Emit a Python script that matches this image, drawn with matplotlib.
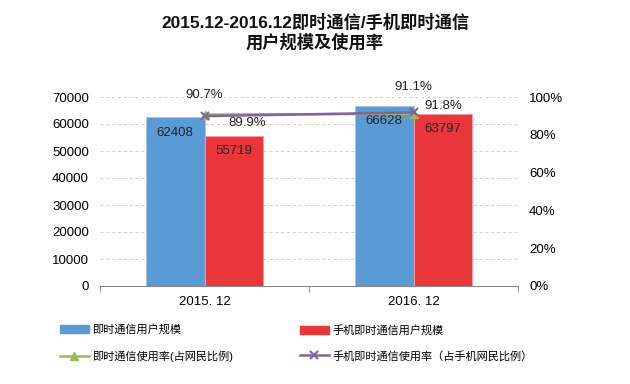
import numpy as np
import matplotlib
matplotlib.use("Agg")
import matplotlib.pyplot as plt
from matplotlib.lines import Line2D
from matplotlib.patches import Patch

plt.rcParams['font.family'] = ['Liberation Sans', 'Noto Sans CJK SC', 'DejaVu Sans']

periods = ["2015. 12", "2016. 12"]
im_users = [62408, 66628]
mobile_im_users = [55719, 63797]
im_rate = [90.7, 91.1]
mobile_im_rate = [89.9, 91.8]

blue = "#5B9BD5"
red = "#E8363B"
green = "#9BBB59"
purple = "#8064A2"

fig = plt.figure(figsize=(6.3, 3.84), dpi=100)

ax = fig.add_axes([100 / 630, 1 - 286 / 384, 418 / 630, 189 / 384])
ax2 = ax.twinx()

x = np.arange(len(periods))
w = 0.28
b1 = ax.bar(x - w / 2, im_users, w, color=blue, edgecolor="#A9C6E6", linewidth=0.7, zorder=2)
b2 = ax.bar(x + w / 2, mobile_im_users, w, color=red, edgecolor="#F0A0A0", linewidth=0.7, zorder=2)
for rects, vals in ((b1, im_users), (b2, mobile_im_users)):
    for r, v in zip(rects, vals):
        ax.text(r.get_x() + r.get_width() / 2, v - 3400, str(v), ha="center", va="top",
                fontsize=9.5, color="#222222")

ax.set_ylim(0, 70000)
ax.set_xlim(-0.5, 1.5)
ax.set_yticks(np.arange(0, 70001, 10000))
ax.set_xticks(x)
ax.set_xticklabels(periods, fontsize=9.5)
ax.set_xticks([-0.5, 0.5, 1.5], minor=True)
ax.tick_params(axis="x", which="major", length=0, pad=7)
ax.tick_params(axis="x", which="minor", length=4, color="#888888")
ax.tick_params(axis="y", length=0, labelsize=9.5, pad=8)
ax.yaxis.grid(True, linestyle=(0, (3, 3)), color="#CCCCCC", linewidth=0.7, zorder=0)
ax.set_axisbelow(True)
for s in ("top", "left", "right"):
    ax.spines[s].set_visible(False)
ax.spines["bottom"].set_color("#888888")

ax2.plot(x, im_rate, color=green, linewidth=1.8, marker="^", markersize=6, zorder=3)
ax2.plot(x, mobile_im_rate, color=purple, linewidth=1.8, marker="x", markersize=6,
         markeredgewidth=1.5, zorder=4)
ax2.set_ylim(0, 100)
ax2.set_yticks(np.arange(0, 101, 20))
ax2.set_yticklabels([f"{t}%" for t in range(0, 101, 20)])
ax2.tick_params(axis="y", length=0, labelsize=9.5, pad=8)
for s in ("top", "left", "right", "bottom"):
    ax2.spines[s].set_visible(False)

lab = dict(textcoords="offset points", fontsize=9.5, color="#222222")
ax2.annotate(f"{im_rate[0]}%", (x[0], im_rate[0]), xytext=(0, 10), ha="center", va="bottom", **lab)
ax2.annotate(f"{mobile_im_rate[0]}%", (x[0], mobile_im_rate[0]), xytext=(17, -1), ha="left", va="top", **lab)
ax2.annotate(f"{im_rate[1]}%", (x[1], im_rate[1]), xytext=(0, 15), ha="center", va="bottom", **lab)
ax2.annotate(f"{mobile_im_rate[1]}%", (x[1], mobile_im_rate[1]), xytext=(8, 0), ha="left", va="bottom", **lab)

fig.text(0.5, 0.965, "2015.12-2016.12即时通信/手机即时通信\n用户规模及使用率", ha="center", va="top",
         fontsize=12.4, fontweight="bold", linespacing=1.2, color="#111111")

leg_kw = dict(loc="center left", frameon=False, fontsize=8, handlelength=2.6, handleheight=0.7,
              handletextpad=0.35, labelspacing=1.35, borderpad=0, borderaxespad=0)
leg1 = fig.legend([Patch(color=blue), Line2D([], [], color=green, marker="^", markersize=6, linewidth=1.8)],
                  ["即时通信用户规模", "即时通信使用率(占网民比例)"],
                  bbox_to_anchor=(60 / 630, 1 - 343 / 384), **leg_kw)
leg2 = fig.legend([Patch(color=red), Line2D([], [], color=purple, marker="x", markersize=6,
                                           markeredgewidth=1.5, linewidth=1.8)],
                  ["手机即时通信用户规模", "手机即时通信使用率（占手机网民比例）"],
                  bbox_to_anchor=(300 / 630, 1 - 343 / 384), **leg_kw)

fig.savefig("out.png", dpi=100)
